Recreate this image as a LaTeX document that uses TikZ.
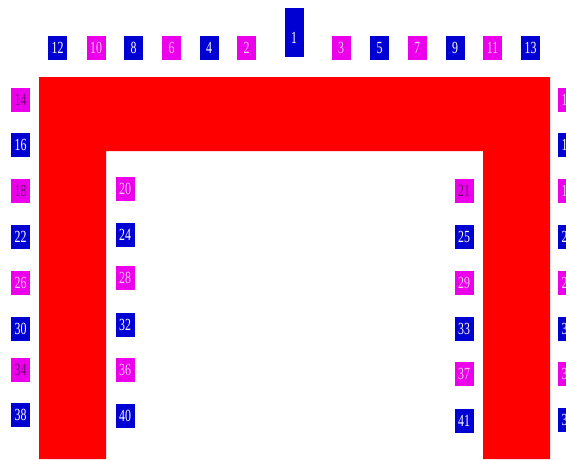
\documentclass[tikz,border=0pt]{standalone}
\usepackage{fontspec}
\setmainfont{Liberation Serif}
\definecolor{pinblue}{RGB}{0,0,210}
\definecolor{pinmag}{RGB}{236,0,236}
\definecolor{padred}{RGB}{255,0,0}
\definecolor{lighttxt}{RGB}{248,200,248}
\definecolor{darktxt}{RGB}{110,0,110}
\newcommand{\pinlab}[1]{\scalebox{0.7}[1]{#1}}
\tikzset{
  pinbox/.style={rectangle, inner sep=0pt, minimum width=19pt, minimum height=24pt,
    font=\fontsize{17}{17}\selectfont},
  bpin/.style={pinbox, fill=pinblue, text=white},
  mpin/.style={pinbox, fill=pinmag, text=lighttxt},
  dpin/.style={pinbox, fill=pinmag, text=darktxt},
}
\begin{document}
\begin{tikzpicture}[x=1pt,y=-1pt]
\clip (0,0) rectangle (566,459);
\fill[white] (0,0) rectangle (566,459);
% red frame
\fill[padred] (39,77) -- (550,77) -- (550,459) -- (483,459) -- (483,151) -- (106,151) -- (106,459) -- (39,459) -- cycle;
% top row
\node[bpin, minimum height=49pt] (p1) at (294,32.5) {};
\node[text=white, inner sep=0pt, font=\fontsize{17}{17}\selectfont] (p1lab) at (294,38) {\pinlab{1}};
\node[bpin] (p12) at (57.5,48) {\pinlab{12}};
\node[mpin] (p10) at (96,48) {\pinlab{10}};
\node[bpin] (p8) at (133.5,48) {\pinlab{8}};
\node[mpin] (p6) at (171.5,48) {\pinlab{6}};
\node[bpin] (p4) at (209,48) {\pinlab{4}};
\node[mpin] (p2) at (246.5,48) {\pinlab{2}};
\node[mpin] (p3) at (341,48) {\pinlab{3}};
\node[bpin] (p5) at (379.5,48) {\pinlab{5}};
\node[mpin] (p7) at (417,48) {\pinlab{7}};
\node[bpin] (p9) at (455,48) {\pinlab{9}};
\node[mpin] (p11) at (492.5,48) {\pinlab{11}};
\node[bpin] (p13) at (530.5,48) {\pinlab{13}};
% left outer
\node[dpin] (p14) at (20.5,100) {\pinlab{14}};
\node[bpin] (p16) at (20.5,145) {\pinlab{16}};
\node[dpin] (p18) at (20.5,191) {\pinlab{18}};
\node[bpin] (p22) at (20.5,237) {\pinlab{22}};
\node[mpin] (p26) at (20.5,283) {\pinlab{26}};
\node[bpin] (p30) at (20.5,329) {\pinlab{30}};
\node[dpin] (p34) at (20.5,370) {\pinlab{34}};
\node[bpin] (p38) at (20.5,415) {\pinlab{38}};
% right outer
\node[mpin] (p15) at (567.5,100) {\pinlab{15}};
\node[bpin] (p17) at (567.5,145) {\pinlab{17}};
\node[mpin] (p19) at (567.5,191) {\pinlab{19}};
\node[bpin] (p23) at (567.5,237) {\pinlab{23}};
\node[mpin] (p27) at (567.5,283) {\pinlab{27}};
\node[bpin] (p31) at (567.5,329) {\pinlab{31}};
\node[mpin] (p35) at (567.5,374) {\pinlab{35}};
\node[bpin] (p39) at (567.5,420) {\pinlab{39}};
% inner left
\node[mpin] (p20) at (125,189) {\pinlab{20}};
\node[bpin] (p24) at (125,234.5) {\pinlab{24}};
\node[mpin] (p28) at (125,278) {\pinlab{28}};
\node[bpin] (p32) at (125,324.5) {\pinlab{32}};
\node[mpin] (p36) at (125,370) {\pinlab{36}};
\node[bpin] (p40) at (125,415.5) {\pinlab{40}};
% inner right
\node[dpin] (p21) at (464,191) {\pinlab{21}};
\node[bpin] (p25) at (464,237) {\pinlab{25}};
\node[mpin] (p29) at (464,283) {\pinlab{29}};
\node[bpin] (p33) at (464,329) {\pinlab{33}};
\node[mpin] (p37) at (464,374) {\pinlab{37}};
\node[bpin] (p41) at (464,420.5) {\pinlab{41}};
\end{tikzpicture}
\end{document}
